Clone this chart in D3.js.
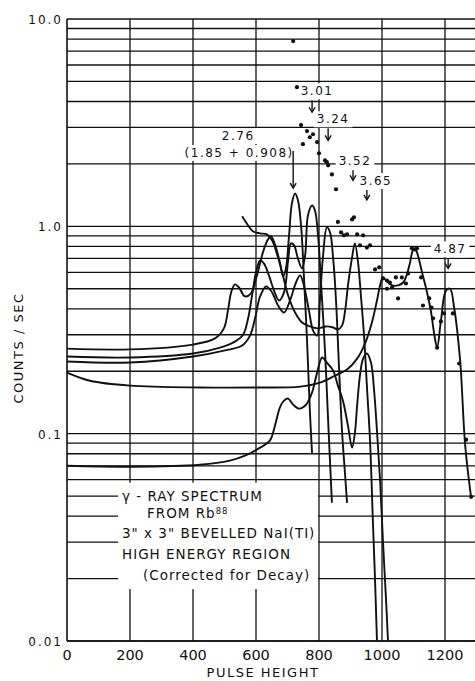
<!DOCTYPE html>
<html>
<head>
<meta charset="utf-8">
<script src="https://cdn.jsdelivr.net/npm/d3@7/dist/d3.min.js"></script>
<style>
  body { margin: 0; background: #fff; overflow: hidden; }
  svg text { font-family: "DejaVu Sans", sans-serif; fill: #111; }
</style>
</head>
<body>
<svg id="chart" width="475" height="681"></svg>
<script>
//Axis ticks
var xTicks = [0, 200, 400, 600, 800, 1000, 1200];
var xGrid = [200, 400, 600, 800, 1000, 1200, 1400];
var yTicks = [0.01, 0.1, 1, 10];
var yTickLabels = ["0.01", "0.1", "1.0", "10.0"];

//Measured points [pulse height, counts/sec]
var points = [[718,7.83],[730,4.69],[743,3.08],[749,2.49],[762,2.88],[771,2.69],[781,2.78],[794,2.55],
  [800,2.25],[819,2.08],[825,2.04],[829,1.97],[841,1.78],[854,1.51],[860,1.05],[870,0.935],[879,0.905],
  [889,0.915],[905,1.08],[911,1.105],[921,0.915],[930,0.81],[940,0.905],[952,0.79],[962,0.81],
  [978,0.62],[991,0.634],[1003,0.561],[1016,0.548],[1016,0.50],[1025,0.536],[1032,0.507],[1044,0.567],
  [1051,0.449],[1063,0.567],[1076,0.53],[1083,0.593],[1095,0.783],[1105,0.774],[1111,0.783],
  [1124,0.567],[1130,0.415],[1150,0.449],[1157,0.406],[1162,0.36],[1175,0.26],[1187,0.348],
  [1197,0.38],[1225,0.38],[1245,0.218],[1267,0.0935],[1283,0.0496]];

//Component curves [pulse height, counts/sec]
var curve276 = [[0,0.257],[200,0.255],[400,0.269],[470,0.288],[498,0.322],[511,0.393],[521,0.48],
  [533,0.525],[546,0.507],[565,0.459],[584,0.475],[603,0.58],[622,0.749],[638,0.865],[648,0.895],
  [660,0.818],[676,0.67],[686,0.573],[695,0.627],[705,0.905],[714,1.29],[724,1.44],[733,1.34],
  [743,1.01],[752,0.58],[762,0.281],[771,0.129],[778,0.080]];
var curve301 = [[0,0.2355],[200,0.233],[400,0.2435],[486,0.26],[533,0.278],[559,0.30],[575,0.36],
  [587,0.459],[600,0.60],[613,0.685],[625,0.663],[641,0.58],[657,0.491],[673,0.439],[689,0.48],
  [702,0.685],[711,0.828],[721,0.81],[733,0.70],[746,0.627],[756,0.724],[765,1.13],[778,1.26],
  [787,1.195],[797,0.905],[806,0.548],[819,0.252],[829,0.1156],[841,0.0464]];
var curve324 = [[0,0.2228],[200,0.2203],[400,0.2355],[502,0.252],[556,0.266],[581,0.297],[597,0.36],
  [613,0.459],[632,0.513],[651,0.48],[670,0.415],[689,0.384],[708,0.439],[727,0.536],[740,0.58],
  [752,0.519],[768,0.393],[781,0.315],[794,0.297],[803,0.439],[813,0.724],[825,0.989],[835,0.935],
  [845,0.70],[854,0.439],[864,0.2015],[873,0.1034],[883,0.0627],[889,0.0464]];
var curve352 = [[0,0.070],[200,0.0693],[422,0.0708],[517,0.0741],[565,0.0783],[613,0.0856],
  [644,0.0925],[660,0.109],[676,0.134],[689,0.1443],[702,0.1476],[718,0.138],[737,0.132],[759,0.138],
  [778,0.158],[794,0.197],[810,0.233],[825,0.22],[845,0.2015],[860,0.1705],[876,0.1443],[892,0.109],
  [905,0.0856],[914,0.101],[921,0.1366],[930,0.1906],[940,0.230],[952,0.2435],[965,0.2203],
  [975,0.161],[984,0.1034],[994,0.0593],[1003,0.0304],[1013,0.0156],[1019,0.01]];
var curve365 = [[556,1.118],[575,1.01],[590,0.946],[613,0.925],[635,0.915],[651,0.856],[667,0.732],
  [683,0.60],[702,0.464],[724,0.384],[746,0.344],[771,0.329],[797,0.322],[822,0.329],[845,0.325],
  [860,0.318],[873,0.332],[883,0.393],[892,0.519],[905,0.708],[914,0.828],[924,0.67],[933,0.464],
  [943,0.297],[952,0.1705],[962,0.0925],[971,0.038],[978,0.0195],[984,0.01]];
var curveFit = [[0,0.197],[73,0.180],[200,0.1705],[422,0.167],[613,0.167],[740,0.1687],[803,0.1764],
  [851,0.1906],[889,0.2038],[921,0.230],[946,0.272],[968,0.344],[984,0.439],[994,0.519],[1003,0.567],
  [1016,0.542],[1032,0.519],[1051,0.519],[1067,0.536],[1079,0.586],[1089,0.67],[1098,0.766],
  [1105,0.783],[1114,0.724],[1127,0.60],[1143,0.48],[1156,0.384],[1165,0.3076],[1175,0.26],
  [1187,0.35],[1203,0.49],[1216,0.50],[1229,0.406],[1248,0.2253],[1264,0.088],[1283,0.049]];
var curves = [curve276, curve301, curve324, curve352, curve365, curveFit];

//Peak labels (arrow tip at pulse height / counts)
var peakLabels = [
  {text: "3.01", ph: 778, tip: 3.55, len: 12, dx: 5},
  {text: "3.24", ph: 829, tip: 2.60, len: 12, dx: 5},
  {text: "3.52", ph: 908, tip: 1.668, len: 10, dx: 2},
  {text: "3.65", ph: 952, tip: 1.34, len: 10, dx: 9},
  {text: "4.87", ph: 1210, tip: 0.627, len: 10, dx: 2}
];
var legendLines = ["γ - RAY SPECTRUM", "FROM Rb", "3\" x 3\" BEVELLED NaI(TI)", "HIGH ENERGY REGION", "(Corrected for Decay)"];

var svg = d3.select("#chart");
var x = d3.scaleLinear().domain([0, 1400]).range([67, 508]);
var y = d3.scaleLog().domain([0.01, 10]).range([641, 19]);

//Grid
var grid = svg.append("g").attr("stroke", "#111").attr("stroke-width", 1.3);
grid.selectAll("line.h").data(y.ticks()).enter().append("line")
  .attr("x1", x(0)).attr("x2", 475)
  .attr("y1", d => y(d)).attr("y2", d => y(d));
grid.selectAll("line.v").data(xGrid).enter().append("line")
  .attr("x1", d => x(d)).attr("x2", d => x(d))
  .attr("y1", y(10)).attr("y2", y(0.01));
svg.append("line").attr("x1", x(0)).attr("x2", x(0)).attr("y1", y(10)).attr("y2", y(0.01))
  .attr("stroke", "#111").attr("stroke-width", 1.6);
svg.append("line").attr("x1", x(0)).attr("x2", 475).attr("y1", y(0.01)).attr("y2", y(0.01))
  .attr("stroke", "#111").attr("stroke-width", 1.6);

//Legend box blanking the grid
svg.append("rect").attr("x", x(162)).attr("y", y(0.058))
  .attr("width", x(800) - x(162) - 1).attr("height", y(0.0178) - y(0.058))
  .attr("fill", "#fff");

var legend = svg.append("g").attr("font-size", 13.5).attr("letter-spacing", 1);
var legendPos = [[122, 501], [147, 518], [122, 538], [122, 559], [143, 580]];
legendLines.forEach(function(t, i) {
  var tx = legend.append("text").attr("x", legendPos[i][0]).attr("y", legendPos[i][1]).text(t);
  if (i == 1) tx.append("tspan").attr("dy", -4).attr("font-size", 8.5).text("88");
  var b = tx.node().getBBox();
  legend.insert("rect", "text").attr("x", b.x - 2).attr("y", b.y).attr("width", b.width + 4)
    .attr("height", b.height).attr("fill", "#fff");
});

//Peak labels
var ann = svg.append("g").attr("font-size", 12).attr("letter-spacing", 1.5);
function arrow(px, y0, y1) {
  ann.append("line").attr("x1", px).attr("x2", px).attr("y1", y0).attr("y2", y1)
    .attr("stroke", "#111").attr("stroke-width", 1.4);
  ann.append("path").attr("d", "M" + (px - 3) + "," + (y1 - 5) + "L" + px + "," + y1 + "L" + (px + 3) + "," + (y1 - 5))
    .attr("fill", "none").attr("stroke", "#111").attr("stroke-width", 1.4);
}
function boxedText(tx, ty, t) {
  var el = ann.append("text").attr("x", tx).attr("y", ty).attr("text-anchor", "middle").text(t);
  var b = el.node().getBBox();
  ann.insert("rect", "text").attr("x", b.x - 3).attr("y", b.y - 1).attr("width", b.width + 6)
    .attr("height", b.height + 2).attr("fill", "#fff");
}
peakLabels.forEach(function(d) {
  var px = x(d.ph), ty = y(d.tip);
  boxedText(px + d.dx, ty - d.len - 5, d.text);
  arrow(px, ty - d.len, ty);
});
boxedText(x(718) - 55, y(1.53) - 48, "2.76");
boxedText(x(718) - 54, y(1.53) - 31, "(1.85 + 0.908)");
arrow(x(718), y(1.53) - 37, y(1.53));

//Curves
var line = d3.line().x(d => x(d[0])).y(d => y(d[1])).curve(d3.curveCatmullRom.alpha(0.5));
svg.append("g").selectAll("path").data(curves).enter().append("path")
  .attr("d", line).attr("fill", "none").attr("stroke", "#111").attr("stroke-width", 1.9);

//Points
svg.append("g").selectAll("circle").data(points).enter().append("circle")
  .attr("cx", d => x(d[0])).attr("cy", d => y(d[1])).attr("r", 2.1).attr("fill", "#111");

//Axis labels
svg.append("g").attr("font-size", 14.5).selectAll("text").data(xTicks).enter().append("text")
  .attr("x", d => x(d)).attr("y", 660).attr("text-anchor", "middle").text(d => d);
svg.append("g").attr("font-size", 12).attr("letter-spacing", 2).selectAll("text").data(yTicks).enter().append("text")
  .attr("x", 63).attr("y", d => y(d) + 5).attr("text-anchor", "end").text((d, i) => yTickLabels[i]);
svg.append("text").attr("x", 263).attr("y", 677).attr("text-anchor", "middle")
  .attr("font-size", 13).attr("letter-spacing", 1.5).text("PULSE HEIGHT");
svg.append("text").attr("transform", "translate(23,348) rotate(-90)").attr("text-anchor", "middle")
  .attr("font-size", 13).attr("letter-spacing", 1.5).text("COUNTS / SEC");
</script>
</body>
</html>
